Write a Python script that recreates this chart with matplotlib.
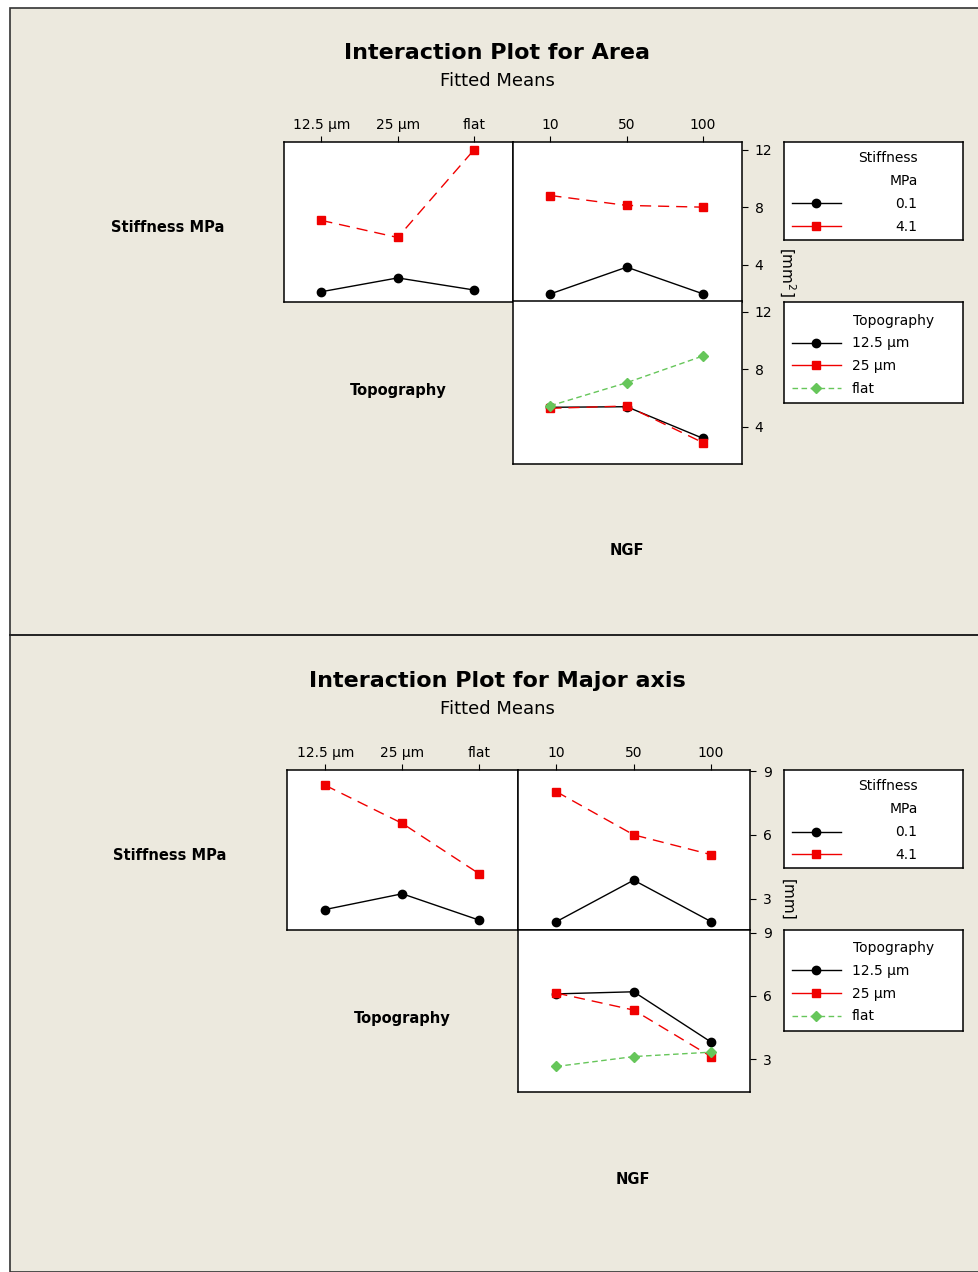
import matplotlib
matplotlib.use("Agg")
import matplotlib.pyplot as plt
from matplotlib.lines import Line2D
from matplotlib.patches import Rectangle

# Factor levels
topography = ['12.5 µm', '25 µm', 'flat']
ngf = ['10', '50', '100']
stiffness = ['0.1', '4.1']

# Fitted means for Area [mm²]
area_topo_stiff_01 = [2.13, 3.09, 2.25]
area_topo_stiff_41 = [7.09, 5.90, 12.00]
area_ngf_stiff_01 = [1.98, 3.84, 1.98]
area_ngf_stiff_41 = [8.82, 8.13, 8.01]
area_ngf_topo_125 = [5.35, 5.39, 3.19]
area_ngf_topo_25 = [5.28, 5.44, 2.89]
area_ngf_topo_flat = [5.46, 7.06, 8.92]

# Fitted means for Major axis [mm]
major_topo_stiff_01 = [2.49, 3.23, 1.99]
major_topo_stiff_41 = [8.33, 6.54, 4.17]
major_ngf_stiff_01 = [1.92, 3.87, 1.92]
major_ngf_stiff_41 = [8.03, 6.00, 5.07]
major_ngf_topo_125 = [6.10, 6.20, 3.81]
major_ngf_topo_25 = [6.14, 5.33, 3.12]
major_ngf_topo_flat = [2.65, 3.12, 3.33]

W, H = 979, 1272
BG = '#ECE9DE'
RED = '#F00000'
GREEN = '#66C65A'
FS = 10

plt.rcParams['font.family'] = ['DejaVu Sans']

# line styles for the three level groups
STYLE_BLACK = dict(color='black', marker='o', markersize=6, linewidth=1.0)
STYLE_RED = dict(color=RED, marker='s', markersize=6, linewidth=1.0, linestyle=(0, (8, 5)))
STYLE_GREEN = dict(color=GREEN, marker='D', markersize=5.5, linewidth=1.0, linestyle=(0, (4, 2.5)))

fig = plt.figure(figsize=(W / 100, H / 100), dpi=100)
fig.patch.set_facecolor('white')


def fig_rect(x0, y0, x1, y1):
    # pixel box (top-left origin) -> figure fraction rect
    return [x0 / W, 1 - y1 / H, (x1 - x0) / W, (y1 - y0) / H]


def fx(x):
    return x / W


def fy(y):
    return 1 - y / H


# beige panel with outer border and divider
fig.add_artist(Rectangle((fx(10), 0), 1 - fx(10), fy(8), transform=fig.transFigure,
                         facecolor=BG, edgecolor='#333333', linewidth=1.2, zorder=0))
fig.add_artist(Line2D([fx(10), 1], [fy(635), fy(635)], transform=fig.transFigure,
                      color='#222222', linewidth=1.4))


def setup_panel(ax, ylim, yticks, top_labels=None, right_ticks=False):
    ax.set_xlim(-0.49, 2.51)
    ax.set_ylim(*ylim)
    ax.set_facecolor('white')
    for s in ax.spines.values():
        s.set_linewidth(1.1)
    if top_labels:
        ax.xaxis.set_ticks_position('top')
        ax.set_xticks(range(len(top_labels)))
        ax.set_xticklabels(top_labels)
        ax.tick_params(axis='x', direction='out', length=4, pad=3, labelsize=FS)
    else:
        ax.set_xticks([])
    if right_ticks:
        ax.yaxis.tick_right()
        ax.set_yticks(yticks)
        ax.tick_params(axis='y', direction='out', length=4, pad=5, labelsize=FS)
    else:
        ax.set_yticks([])


def add_legend(rect, title_lines, title_x, title_ys, title_ha, handles, labels, center_y, textpad):
    lax = fig.add_axes(fig_rect(*rect))
    lax.set_xticks([])
    lax.set_yticks([])
    lax.set_facecolor('white')
    for s in lax.spines.values():
        s.set_linewidth(1.1)
    for line, ty in zip(title_lines, title_ys):
        lax.text(title_x, ty, line, ha=title_ha, va='center', fontsize=FS, transform=lax.transAxes)
    lax.legend(handles, labels, loc='center left', bbox_to_anchor=(0.045, center_y),
               frameon=False, fontsize=FS, handlelength=3.5, handletextpad=textpad,
               labelspacing=0.63, borderpad=0, borderaxespad=0)


def draw_block(lay, title, unit, ylim_top, ylim_bot, yticks,
               topo_stiff, ngf_stiff, ngf_topo):
    x0, xm, x1 = lay['x']
    y0, ym, y1 = lay['y']

    fig.text(fx(497), fy(lay['title_y']), title, ha='center', va='center',
             fontsize=16, fontweight='bold')
    fig.text(fx(497), fy(lay['title_y'] + 28), 'Fitted Means', ha='center', va='center',
             fontsize=13)

    ax_tl = fig.add_axes(fig_rect(x0, y0, xm, ym))
    ax_tr = fig.add_axes(fig_rect(xm, y0, x1, ym))
    ax_br = fig.add_axes(fig_rect(xm, ym, x1, y1))

    pos = range(3)
    ax_tl.plot(pos, topo_stiff[0], **STYLE_BLACK)
    ax_tl.plot(pos, topo_stiff[1], **STYLE_RED)
    ax_tr.plot(pos, ngf_stiff[0], **STYLE_BLACK)
    ax_tr.plot(pos, ngf_stiff[1], **STYLE_RED)
    ax_br.plot(pos, ngf_topo[0], **STYLE_BLACK)
    ax_br.plot(pos, ngf_topo[1], **STYLE_RED)
    ax_br.plot(pos, ngf_topo[2], **STYLE_GREEN)

    setup_panel(ax_tl, ylim_top, yticks, top_labels=topography)
    setup_panel(ax_tr, ylim_top, yticks, top_labels=ngf, right_ticks=True)
    setup_panel(ax_br, ylim_bot, yticks, right_ticks=True)

    # factor names
    fig.text(fx(lay['row1'][0]), fy(lay['row1'][1]), 'Stiffness MPa', ha='center', va='center',
             fontsize=10.5, fontweight='bold')
    fig.text(fx(lay['row2'][0]), fy(lay['row2'][1]), 'Topography', ha='center', va='center',
             fontsize=10.5, fontweight='bold')
    fig.text(fx(lay['row3'][0]), fy(lay['row3'][1]), 'NGF', ha='center', va='center',
             fontsize=10.5, fontweight='bold')

    fig.text(fx(787), fy(lay['unit_y']), unit, ha='center', va='center', rotation=-90,
             fontsize=11)

    h_black = Line2D([], [], **STYLE_BLACK)
    h_red = Line2D([], [], color=RED, marker='s', markersize=6, linewidth=1.0)
    h_green = Line2D([], [], **STYLE_GREEN)

    lg1 = lay['leg1']
    add_legend(lg1, ['Stiffness', 'MPa'], 0.75, [0.834, 0.60], 'right',
               [h_black, h_red], stiffness, 0.249, 3.9)
    lg2 = lay['leg2']
    add_legend(lg2, ['Topography'], 0.384, [0.818], 'left',
               [h_black, h_red, h_green], topography, 0.368, 0.8)


area_layout = dict(x=(284, 513, 742), y=(142, 301.5, 464), title_y=53,
                   row1=(168, 228), row2=(398, 391), row3=(627, 551), unit_y=272,
                   leg1=(784, 141.7, 962.7, 240), leg2=(784, 302.3, 962.7, 403.3))
major_layout = dict(x=(287.5, 518.5, 750.5), y=(770, 929.5, 1091.5), title_y=681,
                    row1=(170, 856), row2=(402, 1019), row3=(633, 1179), unit_y=900,
                    leg1=(784, 770, 962.7, 868.3), leg2=(784, 930, 962.7, 1030.7))

draw_block(area_layout, 'Interaction Plot for Area', r'[mm$^{2}$]',
           (1.45, 12.54), (1.41, 12.70), [4, 8, 12],
           (area_topo_stiff_01, area_topo_stiff_41),
           (area_ngf_stiff_01, area_ngf_stiff_41),
           (area_ngf_topo_125, area_ngf_topo_25, area_ngf_topo_flat))

draw_block(major_layout, 'Interaction Plot for Major axis', '[mm]',
           (1.55, 9.05), (1.46, 9.16), [3, 6, 9],
           (major_topo_stiff_01, major_topo_stiff_41),
           (major_ngf_stiff_01, major_ngf_stiff_41),
           (major_ngf_topo_125, major_ngf_topo_25, major_ngf_topo_flat))

fig.savefig('out.png', dpi=100, facecolor=fig.get_facecolor())
